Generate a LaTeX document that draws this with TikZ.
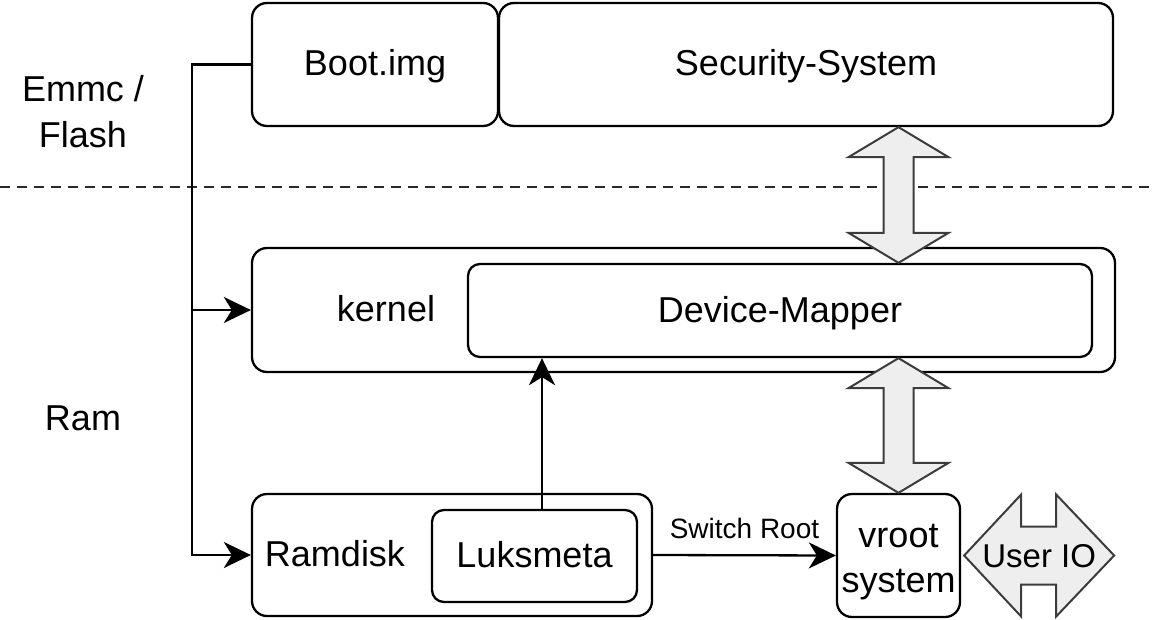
\documentclass[tikz,border=0pt]{standalone}
\usepackage{fontspec}
\setmainfont{Liberation Sans}
\usetikzlibrary{calc, arrows.meta, positioning}
\definecolor{ink}{HTML}{000000}
\definecolor{fatgray}{HTML}{EEEEEE}
\definecolor{fatline}{HTML}{3C3C3C}
\definecolor{dashgray}{HTML}{2A2A2A}
\tikzset{el/.style={line cap=round, line join=round},
  txt/.style={inner sep=0pt, font=\fontsize{36}{46}\selectfont},
  one/.style={text height=26pt, text depth=3pt},
  blk/.style={txt, draw=ink, line width=2.3pt, rounded corners=15pt},
  wire/.style={draw=ink, line width=2.3pt, line join=miter},
  ar/.style={wire, -{Stealth[length=27pt, width=26pt, inset=8pt]}},
  fat/.style={draw=fatline, fill=fatgray, line width=2pt, line join=miter}}

\begin{document}
\begin{tikzpicture}[el, x=1pt, y=-1pt]
  \useasboundingbox (0,0) rectangle (1155,620);
  \draw[dashgray, line width=2pt, line cap=butt, dash pattern=on 10pt off 7pt] (0,187) -- (1155,187);
  \node[blk, one, minimum width=246, minimum height=123] (boot) at (375,64.5) {Boot.img};
  \node[blk, one, minimum width=614, minimum height=123] (sec) at (806,64.5) {Security-System};
  \node[blk, minimum width=863, minimum height=124] (kern) at (683.5,310) {};
  \node[blk, one, rounded corners=12pt, minimum width=624, minimum height=93] (dm) at (780,310.5) {Device-Mapper};
  \node[txt, one] (kname) at (386,310) {kernel};
  \node[blk, minimum width=400, minimum height=122] (ram) at (452,555) {};
  \node[txt, one] (rname) at (335,555) {Ramdisk};
  \node[blk, one, rounded corners=12pt, minimum width=205, minimum height=92] (luks) at (534.5,556) {Luksmeta};
  \node[blk, align=center, minimum width=123, minimum height=123, font=\fontsize{36}{45}\selectfont] (vroot) at (898.5,555.5) {\rule{0pt}{36pt}vroot\\system};
  \node[txt, align=center] (emmc) at (83,112) {Emmc /\\Flash};
  \node[txt, one] (ramlbl) at (83,419) {Ram};

  \coordinate (bus) at (192,0);
  \draw[ar] (boot.west) -- (boot.west -| bus) |- (ram.west);
  \draw[ar] (bus |- kern.west) -- (kern.west);
  \draw[ar] ([xshift=7.5pt]luks.north) -- ([xshift=7.5pt]luks.north |- dm.south);
  \draw[ar] (ram.east) -- node[midway, anchor=base, yshift=17pt, inner sep=0pt, font=\fontsize{28}{34}\selectfont] (swlbl) {Switch Root} (vroot.west);

  \coordinate (f1) at (vroot |- sec.south);\coordinate (f2) at (vroot |- dm.north);
  \coordinate (f3) at (vroot |- dm.south);\coordinate (f4) at (vroot.north);
  \foreach \p/\q in {f1/f2,f3/f4}{
    \draw[fat] (\p) -- ($(\p)+(50,30)$) -- ($(\p)+(15,30)$) -- ($(\q)+(15,-30)$) -- ($(\q)+(50,-30)$) -- (\q)
      -- ($(\q)+(-50,-30)$) -- ($(\q)+(-15,-30)$) -- ($(\p)+(-15,30)$) -- ($(\p)+(-50,30)$) -- cycle;}

  \coordinate (iostart) at ($(vroot.east)+(3,0)$);\coordinate (ioend) at ($(vroot.east)+(153,0)$);
  \draw[fat] (iostart) -- ($(iostart)+(57,-61)$) -- ($(iostart)+(57,-29)$) -- ($(ioend)+(-58,-29)$) -- ($(ioend)+(-58,-61)$) -- (ioend)
    -- ($(ioend)+(-58,61)$) -- ($(ioend)+(-58,29)$) -- ($(iostart)+(57,29)$) -- ($(iostart)+(57,61)$) -- cycle;
  \node[txt, one, font=\fontsize{33}{40}\selectfont] (io) at ($(iostart)!0.5!(ioend)$) {User IO};
\end{tikzpicture}
\end{document}
